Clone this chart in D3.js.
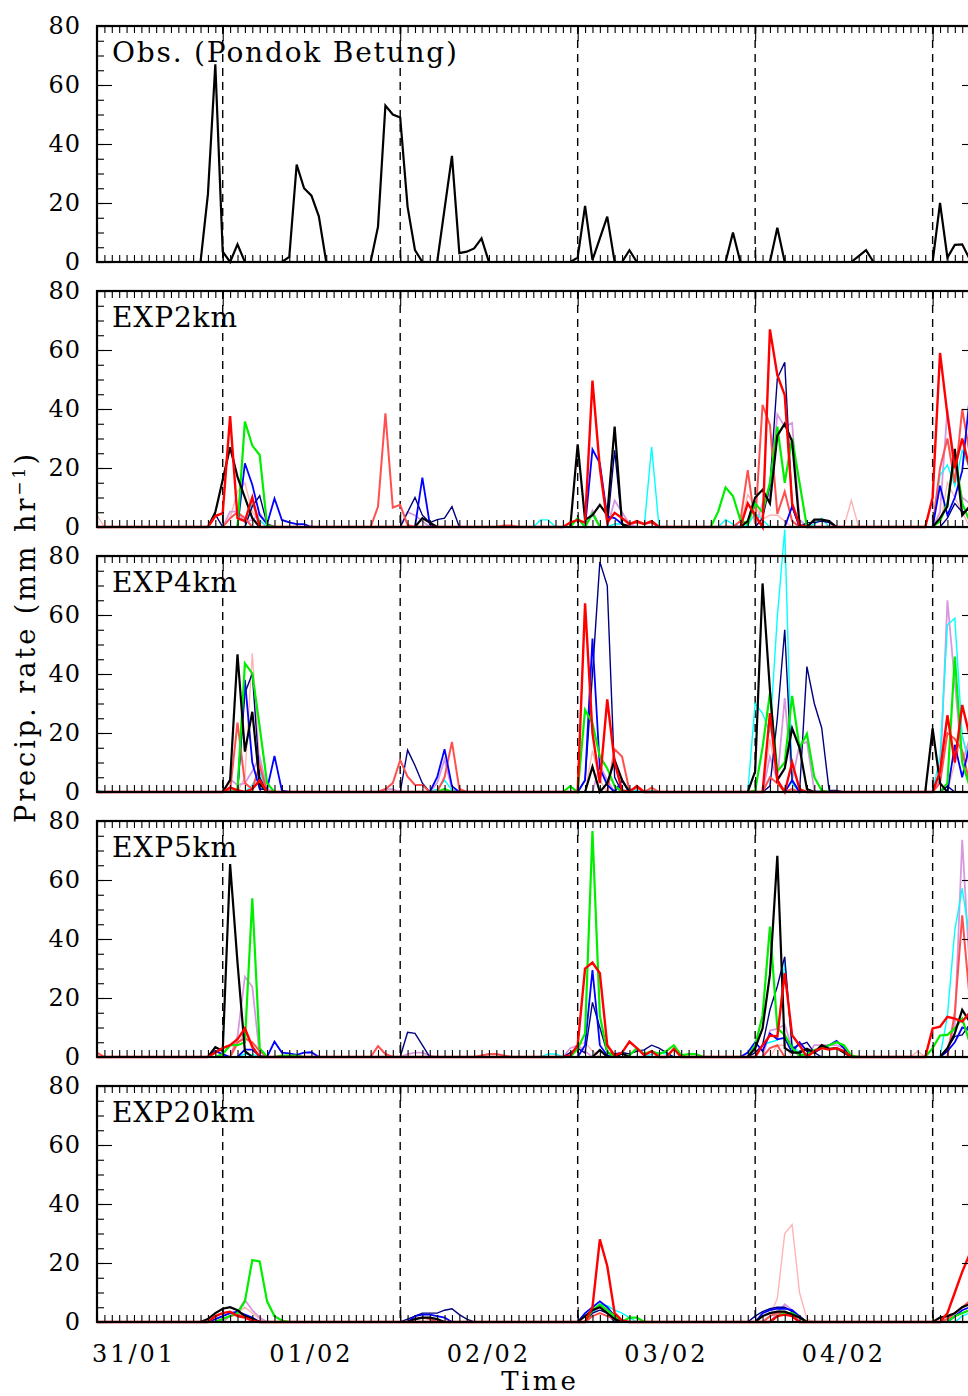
<!DOCTYPE html>
<html>
<head>
<meta charset="utf-8">
<script src="https://cdn.jsdelivr.net/npm/d3@7"></script>
<style>
  body { margin: 0; background: #fff; }
  svg text { font-family: "DejaVu Serif", "Liberation Serif", serif; fill: #000; }
</style>
</head>
<body>
<svg id="chart" width="968" height="1396"></svg>
<script>
// hours counted from 01/02 00h (day boundaries are the dashed lines)
var dayLabels = ['31/01', '01/02', '02/02', '03/02', '04/02']
var dayLabelHours = [-12, 12, 36, 60, 84]
var dayBounds = [0, 24, 48, 72, 96]
var yTicks = [0, 20, 40, 60, 80]
var panelTitles = ['Obs. (Pondok Betung)', 'EXP2km', 'EXP4km', 'EXP5km', 'EXP20km']
var members = ['pink', 'plum', 'cyan', 'navy', 'salmon', 'blue', 'green', 'black', 'red']

// [hour, mm/hr] pairs, every other hour is 0
var obs = [[-3,0],[-2,23],[-1,67],[0,3.5],[1,0],[2,6],[9,1.7],[10,33],[11,25],[12,22.5],[13,15.5],[21,12],[22,53],[23,50],[24,49],[25,18.7],[26,4],[30,18],[31,36],[32,3],[33,3.5],[34,4.6],[35,8],[48,1.5],[49,19],[50,0.7],[51,8],[52,15.4],[55,4],[69,10],[75,11.6],[86,2],[87,4],[97,20],[98,1.5],[99,5.8],[100,6],[101,1]]

var exp2km = {
  black: [[-1,5],[0,16],[1,27],[2,17],[3,10],[4,3],[27,3],[28,1.5],[48,28],[49,2.4],[50,4],[51,7.5],[52,4],[53,34],[54,1],[71,2],[72,10],[73,12.6],[74,8],[75,31],[76,35],[77,29],[78,0.6],[80,2.5],[81,2.5],[82,2],[97,3],[98,7],[99,26.5],[100,4],[101,7]],
  red: [[-1,3.7],[0,4.7],[1,37.6],[2,3],[3,2],[4,10],[47,1.5],[48,2.4],[49,1.5],[50,49.6],[51,20],[52,1.5],[53,4.8],[54,3],[55,1],[56,2],[57,1],[58,2],[71,8],[72,4],[74,67],[75,51.5],[76,44.7],[77,8],[78,0.6],[96,10],[97,59],[98,38],[99,20],[100,30],[101,20]],
  green: [[3,35.7],[4,27.6],[5,24.4],[6,0.6],[48,3],[50,4.6],[67,5.2],[68,13.4],[69,10.5],[70,2.4],[71,1],[72,8],[73,5],[74,15],[75,34],[76,15],[77,30],[78,15],[97,2],[98,8],[99,25],[100,8],[101,2]],
  blue: [[3,21.6],[4,14.3],[5,4],[6,1],[7,9.7],[8,2.4],[9,1.6],[10,1],[11,1],[27,16.7],[28,1],[50,26.3],[51,21.6],[52,3.5],[53,3],[54,1],[77,7],[97,14],[98,4],[99,10],[100,19],[101,44]],
  navy: [[-1,4.3],[4,7],[5,10.6],[6,1],[25,5],[26,10],[27,4],[28,1.5],[29,2.5],[30,3],[31,6.9],[53,26],[54,1],[73,3],[74,14],[75,50.4],[76,55.8],[77,7],[79,1.5],[80,1.5],[81,2],[82,1.5],[98,3],[99,8],[100,5],[101,6]],
  cyan: [[4,7.8],[5,2.4],[43,2.4],[44,2.4],[53,1],[54,1],[58,27.2],[68,2.5],[69,1],[71,0.5],[72,4.8],[73,2.4],[80,1],[81,3],[97,17.6],[98,21],[99,14],[100,26],[101,20]],
  salmon: [[1,3],[2,5],[3,3],[21,6.9],[22,38.5],[23,6.6],[24,7.5],[25,0.7],[38,0.5],[39,0.5],[55,1],[56,1.5],[57,1],[58,1.5],[70,2],[71,19.3],[72,1],[73,41.4],[74,34.6],[75,4.4],[76,12],[77,2],[97,20],[98,30],[99,15],[100,40],[101,25]],
  pink: [[-17,4],[1,3],[2,12],[3,15],[4,5],[5,2],[71,11],[72,7],[73,2.7],[74,4],[75,4],[76,2],[85,9],[98,15],[99,10],[100,5]],
  plum: [[1,5.2],[2,5.2],[3,1.6],[4,2.4],[5,4.6],[6,1.2],[25,5],[26,4],[27,2],[50,5.5],[53,9],[54,5],[55,1],[73,8],[74,11],[75,38.2],[76,34],[77,35.3],[78,2.5],[97,5],[98,40],[99,20],[100,10],[101,8]]
}

var exp4km = {
  black: [[1,4],[2,46.7],[3,13.7],[4,27.2],[5,2.7],[50,8.6],[52,3],[53,10.8],[54,4],[72,7],[73,70.7],[74,34.6],[75,4],[76,8],[77,21.6],[78,15],[79,1],[96,21.6],[97,3]],
  red: [[1,1.5],[2,0.6],[4,1],[5,4],[49,64],[50,20],[51,3],[52,31.4],[53,10],[54,0.5],[56,2],[74,26.7],[75,4],[77,10],[78,1],[97,7],[98,26],[99,10],[100,29.5],[101,19]],
  green: [[2,0.5],[3,43.6],[4,40.2],[5,22.1],[6,3],[30,1],[47,2],[49,27.8],[50,23.3],[51,12],[52,8],[53,2],[72,0.5],[73,15],[74,33.5],[75,7],[76,10],[77,32.6],[78,15],[79,19.7],[80,5],[81,0.5],[98,3],[99,45.9],[100,10],[101,2]],
  blue: [[2,0.5],[3,38],[4,10],[5,1],[6,1],[7,12.2],[8,0.5],[29,5],[30,14.5],[31,2],[49,4],[50,52],[51,8],[52,2.4],[54,4],[77,4],[99,16],[100,5],[101,16]],
  navy: [[3,33.5],[4,40.2],[5,5],[25,14.2],[26,9],[27,3],[49,4],[50,40],[51,78],[52,70],[53,5],[74,2],[75,25],[76,55],[77,4],[79,42.5],[80,30],[81,21.7],[82,0.5],[83,0.5],[98,2]],
  cyan: [[-17,0.5],[4,2.4],[5,7],[29,1],[30,4],[31,0.6],[55,1],[56,0.5],[58,0.5],[72,30],[73,26.7],[74,19.9],[75,59.4],[76,89],[77,3],[81,0.5],[97,12],[98,56.6],[99,58.9],[100,19],[101,10]],
  salmon: [[1,0.5],[2,23.5],[3,3],[4,1],[5,9],[22,1],[23,3],[24,10.8],[25,5.2],[26,2.4],[27,2.4],[30,5],[31,17],[32,1],[53,14.5],[54,12],[55,0.5],[56,1.5],[58,1.5],[74,5],[75,3],[77,1],[97,3],[98,20],[99,18],[100,14],[101,3]],
  pink: [[3,5],[4,47],[5,10],[50,14],[51,4],[74,18],[75,3],[99,10],[100,19],[101,8]],
  plum: [[1,4.3],[2,2.4],[3,3],[4,7],[5,12],[6,1],[22,1],[23,1],[29,3],[30,11],[31,1],[51,9],[52,4],[74,12],[75,4],[76,31.8],[77,4],[78,16],[79,17],[80,0.5],[97,4],[98,65],[99,37],[100,10],[101,18]]
}

var exp5km = {
  black: [[-1,3.3],[0,2],[1,65.4],[2,32],[3,2],[51,2.4],[54,1.2],[72,3],[73,9.7],[74,28],[75,68.2],[76,3],[77,1.5],[78,1.5],[79,2.8],[80,1.5],[81,4],[82,2.8],[83,3],[84,1.5],[98,3],[99,8],[100,16],[101,12]],
  red: [[-1,1.5],[0,3],[1,4],[2,6],[3,9.7],[4,3.5],[47,0.5],[48,4],[49,30],[50,32],[51,28.4],[52,4],[53,0.5],[54,1.5],[55,5.2],[56,3],[57,0.6],[58,2],[61,2.8],[73,4],[74,7.3],[75,7],[76,28.4],[77,7.4],[78,4],[80,2],[81,3],[82,2.5],[83,3],[84,2],[96,9.7],[97,10.3],[98,13.6],[99,13],[100,12],[101,15]],
  green: [[0,1],[1,4],[2,4],[3,5],[4,53.8],[5,3],[8,0.5],[9,0.5],[10,0.5],[48,2.8],[49,8],[50,76.6],[51,14],[52,1.7],[55,0.6],[56,3],[57,1],[58,2],[59,1],[60,2],[61,4],[62,0.6],[63,1],[64,1],[72,4],[73,14],[74,44.2],[75,9.7],[76,7.5],[77,3],[78,0.5],[79,1],[80,2.4],[81,3],[82,4],[83,5],[84,4],[85,0.5],[96,3],[97,7.3],[98,7.5],[99,9.7],[100,13],[101,5]],
  blue: [[-1,2],[0,1],[3,2.5],[4,2.5],[5,0.3],[7,5.2],[8,1.5],[9,1.2],[10,0.7],[11,1.5],[12,1.6],[49,4],[50,29.5],[51,4],[52,0.5],[71,1.5],[72,5],[73,2],[74,8],[75,6],[76,6.5],[77,1.5],[78,5],[79,2],[80,1.5],[81,3],[82,4],[83,5.5],[84,3],[98,2],[99,5],[100,10],[101,9]],
  navy: [[25,8.4],[26,8],[27,4],[47,1.5],[48,3],[49,1.3],[50,18.5],[51,10],[52,1.5],[53,1],[54,1.5],[55,1],[56,2],[57,2.4],[58,4],[59,3],[60,1.5],[72,1.5],[73,4],[74,16],[75,24],[76,34],[77,3],[78,4],[79,5],[80,1.5],[98,3],[99,7],[100,7.5],[101,11]],
  cyan: [[3,1],[4,0.8],[5,0.3],[44,1],[45,1],[58,1],[59,1.5],[60,1],[73,4],[74,5],[75,5.7],[76,32.3],[77,4],[78,1.5],[98,14],[99,43],[100,57.2],[101,40]],
  salmon: [[-17,1.5],[2,5],[3,6.3],[4,5],[5,2],[21,3.7],[22,1],[35,0.5],[36,1],[37,1],[38,0.5],[74,3],[75,4],[99,15],[100,48],[101,20]],
  pink: [[2,4],[3,8.6],[4,3],[48,4],[49,5],[50,2],[75,4],[76,4],[94,2]],
  plum: [[2,7],[3,27.2],[4,23.8],[5,0.5],[25,1],[26,1.5],[27,1.5],[28,0.5],[47,3],[48,4],[49,2],[74,9],[75,9.5],[76,11],[77,3],[80,4],[81,4],[82,4],[83,4],[84,3],[98,3],[99,11],[100,73.6],[101,30]]
}

var exp20km = {
  black: [[-2,1],[-1,3],[0,4.5],[1,5],[2,4],[3,2],[4,1],[26,1],[27,1.5],[28,1.5],[29,1],[49,2],[50,4],[51,5],[52,3],[53,1],[73,2],[74,3],[75,3.5],[76,3.5],[77,2.5],[78,1.5],[97,1.5],[98,2],[99,3],[100,5],[101,6]],
  red: [[-1,2],[0,3],[1,3.5],[2,2],[3,1.5],[4,0.5],[50,5],[51,28],[52,19],[53,3],[54,0.5],[75,2],[76,2.5],[77,2],[98,3],[99,10],[100,17],[101,23]],
  green: [[0,1],[1,2],[2,3],[3,7],[4,21],[5,20.5],[6,7],[7,2],[8,0.5],[50,4],[51,6],[52,4],[53,2],[55,1.5],[56,1.5],[75,2],[76,3],[77,3],[78,1.5],[99,2],[100,3],[101,4]],
  blue: [[-1,1],[0,2],[1,3],[2,3.5],[3,2.5],[4,1.5],[26,2],[27,2.5],[28,2.5],[29,2],[30,1.5],[49,3],[50,5],[51,7],[52,5],[53,2],[73,3],[74,4],[75,4.5],[76,4.5],[77,4],[78,2],[99,2],[100,4],[101,5]],
  navy: [[25,1],[26,2],[27,3],[28,3],[29,3],[30,4],[31,4.5],[32,2.5],[33,1],[50,3],[51,4],[52,3],[72,2],[73,3.5],[74,4.5],[75,5],[76,5],[77,3.5],[78,1.5],[99,2],[100,3],[101,4]],
  cyan: [[50,3],[51,6],[52,5.5],[53,4],[54,3],[55,1.5],[100,2],[101,3]],
  salmon: [[0,1],[1,2],[2,2.5],[3,2],[4,1],[26,1],[27,1.5],[28,1],[50,2],[51,3],[52,2],[53,1],[74,2],[75,3],[76,3],[77,2],[98,1],[99,3],[100,5],[101,7]],
  pink: [[1,2],[2,3],[3,5],[4,3],[5,1],[74,2],[75,8],[76,30],[77,33],[78,10],[79,1]],
  plum: [[1,2],[2,3.5],[3,7.5],[4,4],[5,1.5],[50,3],[51,5],[52,3],[75,3],[76,6],[77,4]]
}

var memberColor = {
  black: '#000000', red: '#ff0000', green: '#00ee00', blue: '#0000ff', cyan: '#00ffff',
  navy: '#00007f', salmon: '#ff5050', pink: '#ffb4b4', plum: '#d898e0'
}
var memberWidth = {
  black: 2.2, red: 2.4, green: 2.2, blue: 1.8, cyan: 1.4,
  navy: 1.4, salmon: 2, pink: 1.4, plum: 1.8
}

var svg = d3.select('#chart')
var left = 97, right = 977, firstTop = 26, panelH = 236, step = 265
var hours = d3.range(-17, 103)

var x = d3.scaleLinear().domain([-17, 102]).range([left, right])
var y = d3.scaleLinear().domain([0, 80]).range([panelH, 0])

function fillHours (pairs) {
  var m = new Map(pairs)
  return hours.map(function (h) { return [h, m.has(h) ? m.get(h) : 0] })
}

var line = d3.line()
  .x(function (d) { return x(d[0]) })
  .y(function (d) { return y(d[1]) })

var panels = [
  [{ key: 'black', pairs: obs }],
  members.map(function (k) { return { key: k, pairs: exp2km[k] } }),
  members.map(function (k) { return { key: k, pairs: exp4km[k] } }),
  members.map(function (k) { return { key: k, pairs: exp5km[k] } }),
  members.map(function (k) { return { key: k, pairs: exp20km[k] } })
]

panels.forEach(function (series, i) {
  var g = svg.append('g').attr('transform', 'translate(0,' + (firstTop + i * step) + ')')

  // day boundaries
  g.selectAll('line.day')
    .data(dayBounds)
    .join('line')
    .attr('x1', function (d) { return x(d) })
    .attr('x2', function (d) { return x(d) })
    .attr('y1', 0).attr('y2', panelH)
    .attr('stroke', '#000').attr('stroke-width', 1.4)
    .attr('stroke-dasharray', '8,6')

  g.selectAll('path.series')
    .data(series)
    .join('path')
    .attr('fill', 'none')
    .attr('stroke', function (d) { return memberColor[d.key] })
    .attr('stroke-width', function (d) { return i === 0 ? 2.2 : memberWidth[d.key] })
    .attr('d', function (d) { return line(fillHours(d.pairs)) })

  // minor/major ticks, pointing inward
  var xMinor = d3.axisBottom(x).tickValues(hours).tickSize(-7).tickFormat('')
  var xMajor = d3.axisBottom(x).tickValues(dayBounds).tickSize(-15).tickFormat('')
  g.append('g').attr('transform', 'translate(0,' + panelH + ')').call(xMinor)
  g.append('g').attr('transform', 'translate(0,' + panelH + ')').call(xMajor)
  g.append('g').call(d3.axisTop(x).tickValues(hours).tickSize(-7).tickFormat(''))
  g.append('g').call(d3.axisTop(x).tickValues(dayBounds).tickSize(-15).tickFormat(''))

  var yMinor = d3.range(0, 81, 5)
  g.append('g').attr('transform', 'translate(' + left + ',0)')
    .call(d3.axisLeft(y).tickValues(yMinor).tickSize(-7).tickFormat(''))
  g.append('g').attr('transform', 'translate(' + left + ',0)')
    .call(d3.axisLeft(y).tickValues(yTicks).tickSize(-15).tickPadding(16).tickFormat(d3.format('d')))
    .selectAll('text')
    .attr('font-size', 24).attr('font-family', '"DejaVu Serif", serif')
    .attr('letter-spacing', 1)
  g.append('g').attr('transform', 'translate(' + right + ',0)')
    .call(d3.axisRight(y).tickValues(yMinor).tickSize(-7).tickFormat(''))
  g.append('g').attr('transform', 'translate(' + right + ',0)')
    .call(d3.axisRight(y).tickValues(yTicks).tickSize(-15).tickFormat(''))

  g.selectAll('.domain').remove()
  g.selectAll('.tick line').attr('stroke', '#000').attr('stroke-width', 1.1)

  g.append('rect')
    .attr('x', left).attr('y', 0)
    .attr('width', right - left).attr('height', panelH)
    .attr('fill', 'none').attr('stroke', '#000').attr('stroke-width', 2.2)

  g.append('text')
    .attr('x', 112).attr('y', 36)
    .attr('font-size', 28)
    .attr('textLength', [345, 125, 125, 125, 143][i])
    .attr('lengthAdjust', 'spacing')
    .text(panelTitles[i])
})

// day labels under the last panel
var bottom = firstTop + 4 * step + panelH
svg.selectAll('text.day')
  .data(dayLabels)
  .join('text')
  .attr('x', function (d, i) { return x(dayLabelHours[i]) })
  .attr('y', bottom + 40)
  .attr('text-anchor', 'middle')
  .attr('font-size', 24)
  .attr('letter-spacing', 3)
  .text(function (d) { return d })

svg.append('text')
  .attr('x', 540).attr('y', bottom + 68)
  .attr('text-anchor', 'middle')
  .attr('font-size', 26)
  .attr('letter-spacing', 3)
  .text('Time')

var ylab = svg.append('text')
  .attr('transform', 'translate(35,637) rotate(-90)')
  .attr('text-anchor', 'middle')
  .attr('font-size', 27)
  .attr('letter-spacing', 3)
ylab.append('tspan').text('Precip. rate (mm hr')
ylab.append('tspan').attr('font-size', 17).attr('dy', -10).text('−1')
ylab.append('tspan').attr('dy', 10).text(')')
</script>
</body>
</html>
